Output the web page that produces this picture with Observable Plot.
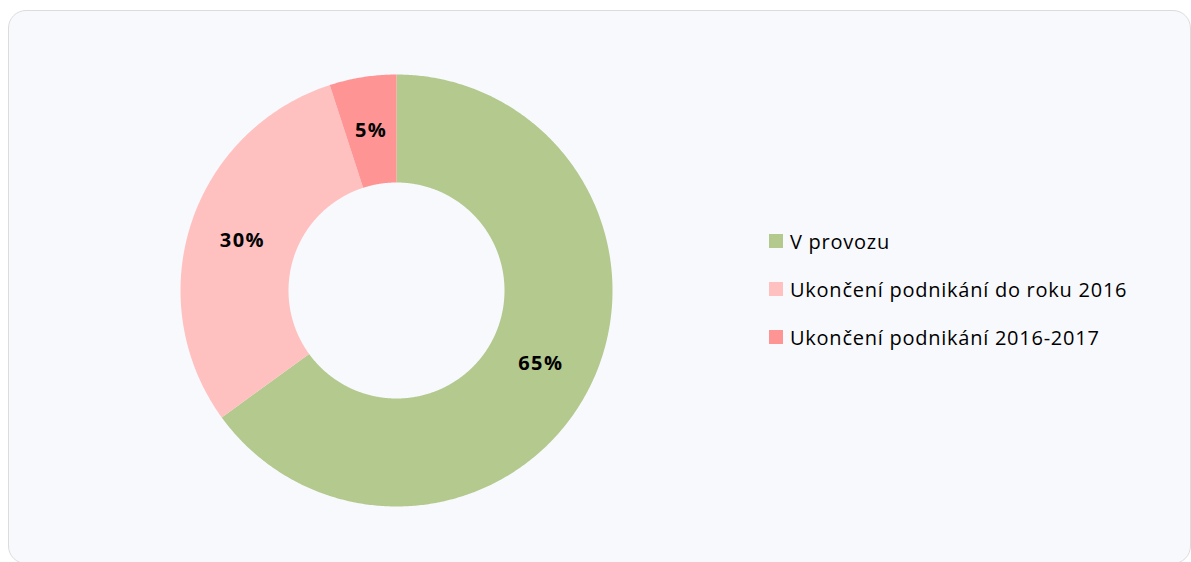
<!DOCTYPE html>
<html>
<head>
<meta charset="utf-8">
<script src="https://cdn.jsdelivr.net/npm/d3@7"></script>
<script src="https://cdn.jsdelivr.net/npm/@observablehq/plot@0.6"></script>
<style>
  html, body { margin: 0; padding: 0; background: #ffffff; overflow: hidden; width: 1191px; height: 562px; }
  #panel {
    position: absolute; left: 8px; top: 10px; width: 1183px; height: 554px;
    background: #f8f9fd; border: 1px solid #dcdcdc; border-radius: 18px; box-sizing: border-box;
  }
  #chart { position: absolute; left: 0; top: 0; }
  #legend {
    position: absolute; left: 760px; top: 206px;
    font-family: "Open Sans", sans-serif; font-size: 20px; letter-spacing: 0.75px; color: #000;
  }
  .row { height: 48px; display: flex; align-items: center; white-space: nowrap; }
  .sw { width: 14px; height: 14px; margin-right: 7px; flex: none; }
</style>
</head>
<body>
<div id="panel">
  <div id="chart"></div>
  <div id="legend"></div>
</div>
<script>
const categories = ["V provozu", "Ukončení podnikání do roku 2016", "Ukončení podnikání 2016-2017"];
const values = [65, 30, 5];
const labels = ["65%", "30%", "5%"];
const colors = ["#b3c98e", "#ffc0c0", "#ff9494"];

const R = 1, r0 = 0.5;
const pie = d3.pie().sort(null).value(d => d.value)(categories.map((c, i) => ({category: c, value: values[i], label: labels[i]})));

function pt(rad, a) { return [rad * Math.sin(a), -rad * Math.cos(a)]; }
function ring(a0, a1, ro, ri) {
  const n = Math.max(2, Math.ceil((a1 - a0) / (Math.PI / 360)));
  const outer = d3.range(n + 1).map(k => pt(ro, a0 + (a1 - a0) * k / n));
  const inner = d3.range(n + 1).map(k => pt(ri, a1 - (a1 - a0) * k / n));
  const pts = outer.concat(inner);
  pts.push(pts[0]);
  return pts;
}
const features = pie.map(p => ({
  type: "Feature",
  properties: {category: p.data.category},
  geometry: {type: "Polygon", coordinates: [ring(p.startAngle, p.endAngle, R, r0)]}
}));
const domain = {type: "Feature", properties: {}, geometry: {type: "Polygon", coordinates: [ring(0, 2 * Math.PI, R, R)]}};
const textData = pie.map(p => {
  const [x, y] = pt((R + r0) / 2, (p.startAngle + p.endAngle) / 2);
  return {x, y, label: p.data.label};
});

const chart = Plot.plot({
  width: 774,
  height: 535,
  marginLeft: 171,
  marginRight: 171,
  marginTop: 63,
  marginBottom: 40,
  projection: {type: "identity", domain},
  color: {domain: categories, range: colors},
  style: {background: "transparent", fontFamily: "Open Sans, sans-serif"},
  marks: [
    Plot.geo(features, {fill: d => d.properties.category, stroke: "none"}),
    Plot.text(textData, {x: "x", y: "y", text: "label", fontSize: 20, fontWeight: "bold", fill: "#000", style: "letter-spacing: 1.5px"})
  ]
});
chart.querySelectorAll("text").forEach(t => t.style.letterSpacing = "1.5px");
document.getElementById("chart").appendChild(chart);

const legend = document.getElementById("legend");
categories.forEach((c, i) => {
  const row = document.createElement("div");
  row.className = "row";
  const sw = document.createElement("span");
  sw.className = "sw";
  sw.style.background = colors[i];
  const t = document.createElement("span");
  t.textContent = c;
  row.appendChild(sw);
  row.appendChild(t);
  legend.appendChild(row);
});
</script>
</body>
</html>
